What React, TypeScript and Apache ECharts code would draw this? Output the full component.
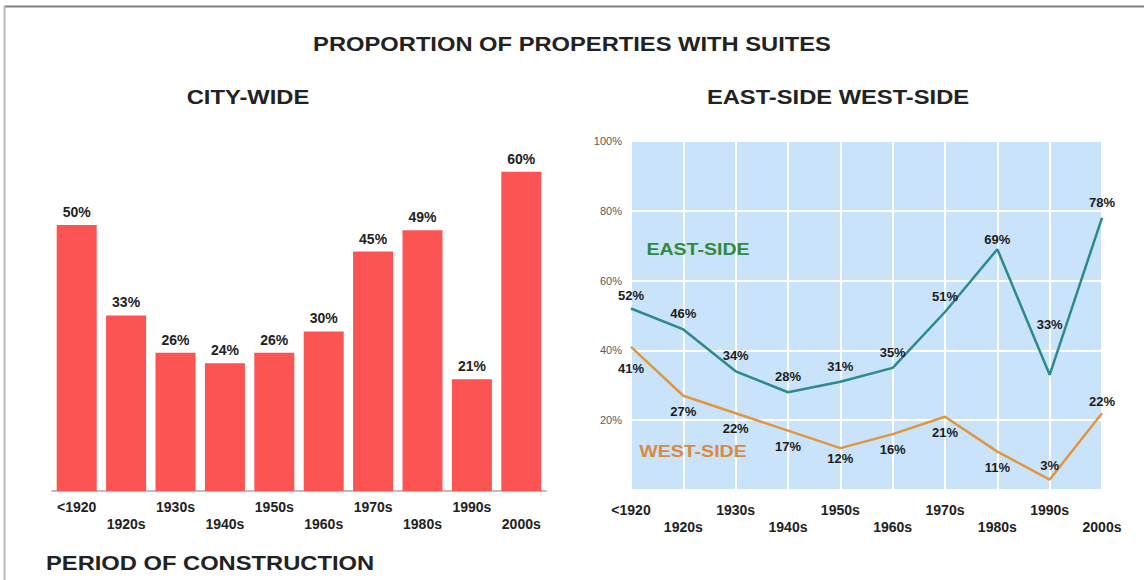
import React, { useEffect, useRef } from "react";
import * as echarts from "echarts";

const categories = ["<1920", "1920s", "1930s", "1940s", "1950s", "1960s", "1970s", "1980s", "1990s", "2000s"];
const cityWide = [50, 33, 26, 24, 26, 30, 45, 49, 21, 60];
const eastSide = [52, 46, 34, 28, 31, 35, 51, 69, 33, 78];
const westSide = [41, 27, 22, 17, 12, 16, 21, 11, 3, 22];
const rightTicks = [20, 40, 60, 80, 100];

const FONT = "'Liberation Sans', Arial, Helvetica, sans-serif";

export default function App() {
  const ref = useRef<HTMLDivElement>(null);
  useEffect(() => {
    if (!ref.current) return;
    const chart = echarts.init(ref.current, null, { renderer: "svg" });

    const stagger = (v: string, i: number) => (i % 2 === 1 ? "\n" + v : v);

    const eastDist: Record<number, number> = { 0: 6, 7: 3, 8: 44 };
    const westTop = new Set([8, 9]);
    const westDist: Record<number, number> = { 0: 15, 4: 4, 8: 7, 9: 5 };

    const lineLabel = {
      show: true,
      formatter: (p: any) => p.value + "%",
      fontFamily: FONT,
      fontSize: 13,
      fontWeight: "bold",
      color: "#1c1c1c",
    };

    const titleText = (text: string, x: number, y: number, align: string, size: number, color: string, sx: number) => ({
      type: "text",
      x,
      y,
      z: 100,
      scaleX: sx,
      style: {
        text,
        x: 0,
        y: 0,
        textAlign: align,
        textVerticalAlign: "middle",
        fontFamily: FONT,
        fontSize: size,
        fontWeight: "bold",
        fill: color,
      },
    });

    chart.setOption({
      animation: false,
      backgroundColor: "#ffffff",
      grid: [
        { left: 52, top: 118.6, width: 494, height: 372.4, containLabel: false },
        { left: 631, top: 141, width: 471, height: 349, show: true, backgroundColor: "#c9e3fa", borderWidth: 0, containLabel: false },
      ],
      xAxis: [
        {
          type: "category",
          gridIndex: 0,
          data: categories,
          axisLine: { show: true, lineStyle: { color: "#bdbdbd", width: 2 } },
          axisTick: { show: false },
          axisLabel: {
            interval: 0,
            formatter: stagger,
            fontFamily: FONT,
            fontSize: 14,
            fontWeight: "bold",
            color: "#222",
            lineHeight: 17,
            margin: 7,
          },
        },
        {
          type: "category",
          gridIndex: 1,
          data: categories,
          boundaryGap: false,
          axisLine: { show: false },
          axisTick: { show: false },
          splitLine: { show: true, lineStyle: { color: "#ffffff", width: 2 } },
          axisLabel: {
            interval: 0,
            formatter: stagger,
            fontFamily: FONT,
            fontSize: 14,
            fontWeight: "bold",
            color: "#222",
            lineHeight: 17,
            margin: 11,
          },
        },
      ],
      yAxis: [
        {
          type: "value",
          gridIndex: 0,
          min: 0,
          max: 70,
          show: false,
          splitLine: { show: false },
        },
        {
          type: "value",
          gridIndex: 1,
          min: 0,
          max: 100,
          interval: 20,
          axisLine: { show: false },
          axisTick: { show: false },
          splitLine: { show: true, lineStyle: { color: "#ffffff", width: 2 } },
          axisLabel: {
            fontFamily: FONT,
            fontSize: 11,
            color: "#5a5a5a",
            margin: 9,
            formatter: (v: number) => (rightTicks.includes(v) ? v + "%" : ""),
          },
        },
      ],
      series: [
        {
          type: "bar",
          xAxisIndex: 0,
          yAxisIndex: 0,
          data: cityWide,
          barWidth: 40,
          itemStyle: { color: "#fc5353" },
          label: {
            show: true,
            position: "top",
            distance: 6,
            formatter: (p: any) => p.value + "%",
            fontFamily: FONT,
            fontSize: 14,
            fontWeight: "bold",
            color: "#222",
          },
        },
        {
          type: "line",
          name: "EAST-SIDE",
          xAxisIndex: 1,
          yAxisIndex: 1,
          data: eastSide.map((v, i) => ({
            value: v,
            label: { position: "top", distance: eastDist[i] ?? 9 },
          })),
          symbol: "circle",
          symbolSize: 0.1,
          showSymbol: true,
          lineStyle: { color: "#2b8a8c", width: 2.5 },
          itemStyle: { color: "#2b8a8c" },
          label: lineLabel,
        },
        {
          type: "line",
          name: "WEST-SIDE",
          xAxisIndex: 1,
          yAxisIndex: 1,
          data: westSide.map((v, i) => ({
            value: v,
            label: { position: westTop.has(i) ? "top" : "bottom", distance: westDist[i] ?? 9 },
          })),
          symbol: "circle",
          symbolSize: 0.1,
          showSymbol: true,
          lineStyle: { color: "#e0963f", width: 2.5 },
          itemStyle: { color: "#e0963f" },
          label: lineLabel,
        },
      ],
      graphic: [
        { type: "line", z: 100, shape: { x1: 4, y1: 6.5, x2: 1144, y2: 6.5 }, style: { stroke: "#808080", lineWidth: 2 } },
        { type: "line", z: 100, shape: { x1: 4.5, y1: 6, x2: 4.5, y2: 580 }, style: { stroke: "#bbbbbb", lineWidth: 2 } },
        titleText("PROPORTION OF PROPERTIES WITH SUITES", 572, 44, "center", 21, "#222", 1.13),
        titleText("CITY-WIDE", 248, 96.5, "center", 21, "#222", 1.13),
        titleText("EAST-SIDE WEST-SIDE", 838, 96.5, "center", 21, "#222", 1.13),
        titleText("PERIOD OF CONSTRUCTION", 46, 562.5, "left", 21, "#222", 1.13),
        titleText("EAST-SIDE", 698, 249, "center", 17, "#2e8b3e", 1.15),
        titleText("WEST-SIDE", 693, 451, "center", 17, "#d98a3d", 1.15),
      ],
    });

    return () => chart.dispose();
  }, []);

  return (
    <div
      ref={ref}
      style={{ position: "absolute", left: 0, top: 0, width: 1144, height: 580 }}
    />
  );
}
